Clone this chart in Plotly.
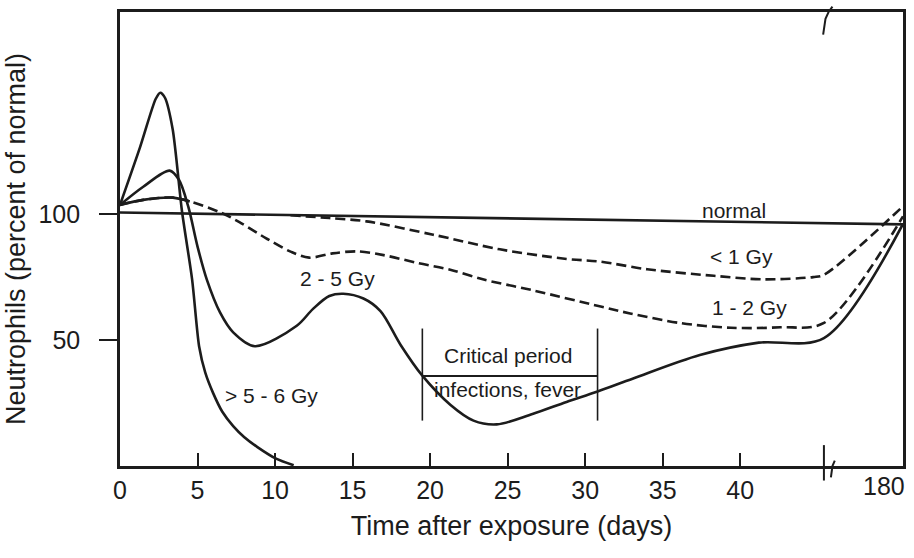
import plotly.graph_objects as go

# ---- axis break: days up to BREAK_DAY are linear, then jump to day 180 ----
BREAK_DAY = 45.4
END_DAY = 180
X_END = 50.5


def to_axis(days):
    out = []
    for d in days:
        if d <= BREAK_DAY:
            out.append(d)
        else:
            out.append(BREAK_DAY + (d - BREAK_DAY) * (X_END - BREAK_DAY) / (END_DAY - BREAK_DAY))
    return out


# ---- data (percent of normal) ----
normal_days = [0, 180]
normal_vals = [100.5, 95.8]

lt1_days = [11.0, 13.5, 15.9, 20.2, 24.5, 28.8, 31.0, 34.0, 38.3, 41.5, 44.7, 45.4, 180]
lt1_vals = [99.4, 98.3, 97.0, 91.7, 85.9, 82.1, 81.0, 78.0, 75.4, 74.0, 74.9, 75.8, 103]

g12_days = [0, 1.5, 3.4, 4.5, 6.45, 7.7, 9.5, 11.0, 12.2, 13.7, 15.3, 17.0, 19.2, 21.3,
            23.4, 26.6, 31.0, 32.9, 36.1, 39.4, 42.6, 45.4, 180]
g12_vals = [103.5, 105.5, 106.4, 104.9, 100.6, 96.7, 90.0, 85.0, 82.6, 84.3, 85.1, 83.6, 80.5, 77.8,
            74.0, 69.7, 63.2, 60.5, 56.7, 54.8, 55.0, 56.7, 99]

g25_days = [0, 1.5, 3.2, 3.8, 4.4, 5.0, 5.6, 6.45, 7.3, 8.7, 11.4, 12.45, 13.5, 14.4, 15.7, 16.8,
            18.1, 19.5, 21.3, 22.8, 24.3, 26.6, 28.8, 30.8, 33.1, 37.4, 41.2, 45.4, 180]
g25_vals = [103.5, 110.7, 117.1, 113.5, 102.9, 87.0, 73.9, 60.9, 53.0, 47.5, 55.6, 62.3, 67.4, 68.3, 66.4, 61.4,
            48.0, 35.8, 24.3, 18.0, 16.5, 20.6, 25.4, 29.5, 34.7, 44.0, 48.9, 50.7, 96]

g56_days = [0, 1.3, 2.3, 2.6, 2.9, 3.4, 4.0, 4.65, 5.1, 5.5, 6.0, 6.6, 7.3, 8.0, 8.84, 10.1, 11.2]
g56_vals = [103.5, 126.5, 145.5, 148.0, 146.0, 133.4, 100.9, 74.0, 47.5, 37.0, 29.0, 21.5, 15.8, 11.5, 7.6, 2.8, 0.3]

# critical period box
CRIT_START, CRIT_END = 19.5, 30.8
CRIT_LINE, CRIT_TOP, CRIT_BOTTOM = 35.7, 54.5, 18.0

# tick labels
x_ticks = [0, 5, 10, 15, 20, 25, 30, 35, 40]
y_ticks = [50, 100]

# curve labels: (text, day, value)
labels = [
    ("normal", 39.6, 101.3),
    ("< 1 Gy", 40.1, 83.0),
    ("1 - 2 Gy", 40.6, 62.8),
    ("2 - 5 Gy", 14.0, 74.4),
    ("> 5 - 6 Gy", 9.8, 27.8),
    ("Critical period", 25.0, 43.9),
    ("infections, fever", 25.0, 30.4),
]

INK = "#1c1c1c"
FONT = "Liberation Sans, Arial, sans-serif"

fig = go.Figure()


def add_line(days, vals, dash="solid", width=2.6, shape="spline", smoothing=0.9):
    fig.add_trace(go.Scatter(
        x=to_axis(days), y=vals, mode="lines",
        line=dict(color=INK, width=width, dash=dash, shape=shape, smoothing=smoothing),
        showlegend=False, hoverinfo="skip"))


add_line(normal_days, normal_vals, shape="linear")
add_line(lt1_days, lt1_vals, dash="10px,5px")
add_line(g12_days, g12_vals, dash="10px,5px")
add_line(g12_days[:4], g12_vals[:4])          # solid start of the 1-2 Gy curve
add_line(g25_days, g25_vals)
add_line(g56_days, g56_vals, smoothing=0.7)

shapes = [
    dict(type="line", xref="x", yref="y", x0=CRIT_START, x1=CRIT_START, y0=CRIT_BOTTOM, y1=CRIT_TOP,
         line=dict(color=INK, width=1.6)),
    dict(type="line", xref="x", yref="y", x0=CRIT_END, x1=CRIT_END, y0=CRIT_BOTTOM, y1=CRIT_TOP,
         line=dict(color=INK, width=1.6)),
    dict(type="line", xref="x", yref="y", x0=CRIT_START, x1=CRIT_END, y0=CRIT_LINE, y1=CRIT_LINE,
         line=dict(color=INK, width=2)),
    # axis-break marks
    dict(type="line", xref="x", yref="paper", x0=BREAK_DAY, x1=BREAK_DAY, y0=-0.032, y1=0.046,
         line=dict(color=INK, width=2)),
    dict(type="path", xref="x", yref="paper",
         path=f"M {BREAK_DAY + 0.45},-0.025 L {BREAK_DAY + 0.55},0.0 L {BREAK_DAY + 0.7},0.012",
         line=dict(color=INK, width=2)),
    dict(type="path", xref="x", yref="paper",
         path=f"M {BREAK_DAY - 0.05},0.95 L {BREAK_DAY + 0.1},0.985 L {BREAK_DAY + 0.3},1.0 L {BREAK_DAY + 0.55},1.012",
         line=dict(color=INK, width=2)),
]

annotations = []
for text, d, v in labels:
    annotations.append(dict(x=d, y=v, xref="x", yref="y", text=text, showarrow=False,
                            font=dict(family=FONT, size=21, color=INK)))
annotations.append(dict(x=to_axis([END_DAY])[0] - 1.2, y=0, xref="x", yref="paper", text="180",
                        showarrow=False, yanchor="top", yshift=-4,
                        font=dict(family=FONT, size=25, color=INK)))

fig.update_layout(
    width=914, height=558,
    margin=dict(l=120, r=11, t=12, b=92),
    paper_bgcolor="white", plot_bgcolor="white",
    font=dict(family=FONT, color=INK),
    shapes=shapes, annotations=annotations,
    xaxis=dict(range=[0, X_END], tickvals=x_ticks, ticks="inside", ticklen=13, tickwidth=1.6,
               tickcolor=INK, showline=True, linewidth=2.6, linecolor=INK, mirror=True,
               showgrid=False, zeroline=False, automargin=False,
               tickfont=dict(size=25, family=FONT, color=INK),
               title=dict(text="Time after exposure (days)", standoff=14,
                          font=dict(size=27, family=FONT, color=INK))),
    yaxis=dict(range=[0, 180], tickvals=y_ticks, ticks="outside", ticklen=18, tickwidth=1.8,
               tickcolor=INK, ticklabelstandoff=14, showline=True, linewidth=2.6, linecolor=INK,
               mirror=True, showgrid=False, zeroline=False, automargin=False,
               tickfont=dict(size=25, family=FONT, color=INK),
               title=dict(text="Neutrophils (percent of normal)", standoff=6,
                          font=dict(size=27, family=FONT, color=INK))),
)

fig.write_html("out.html", config={"displayModeBar": False},
               post_script="document.body.style.margin='0';")
